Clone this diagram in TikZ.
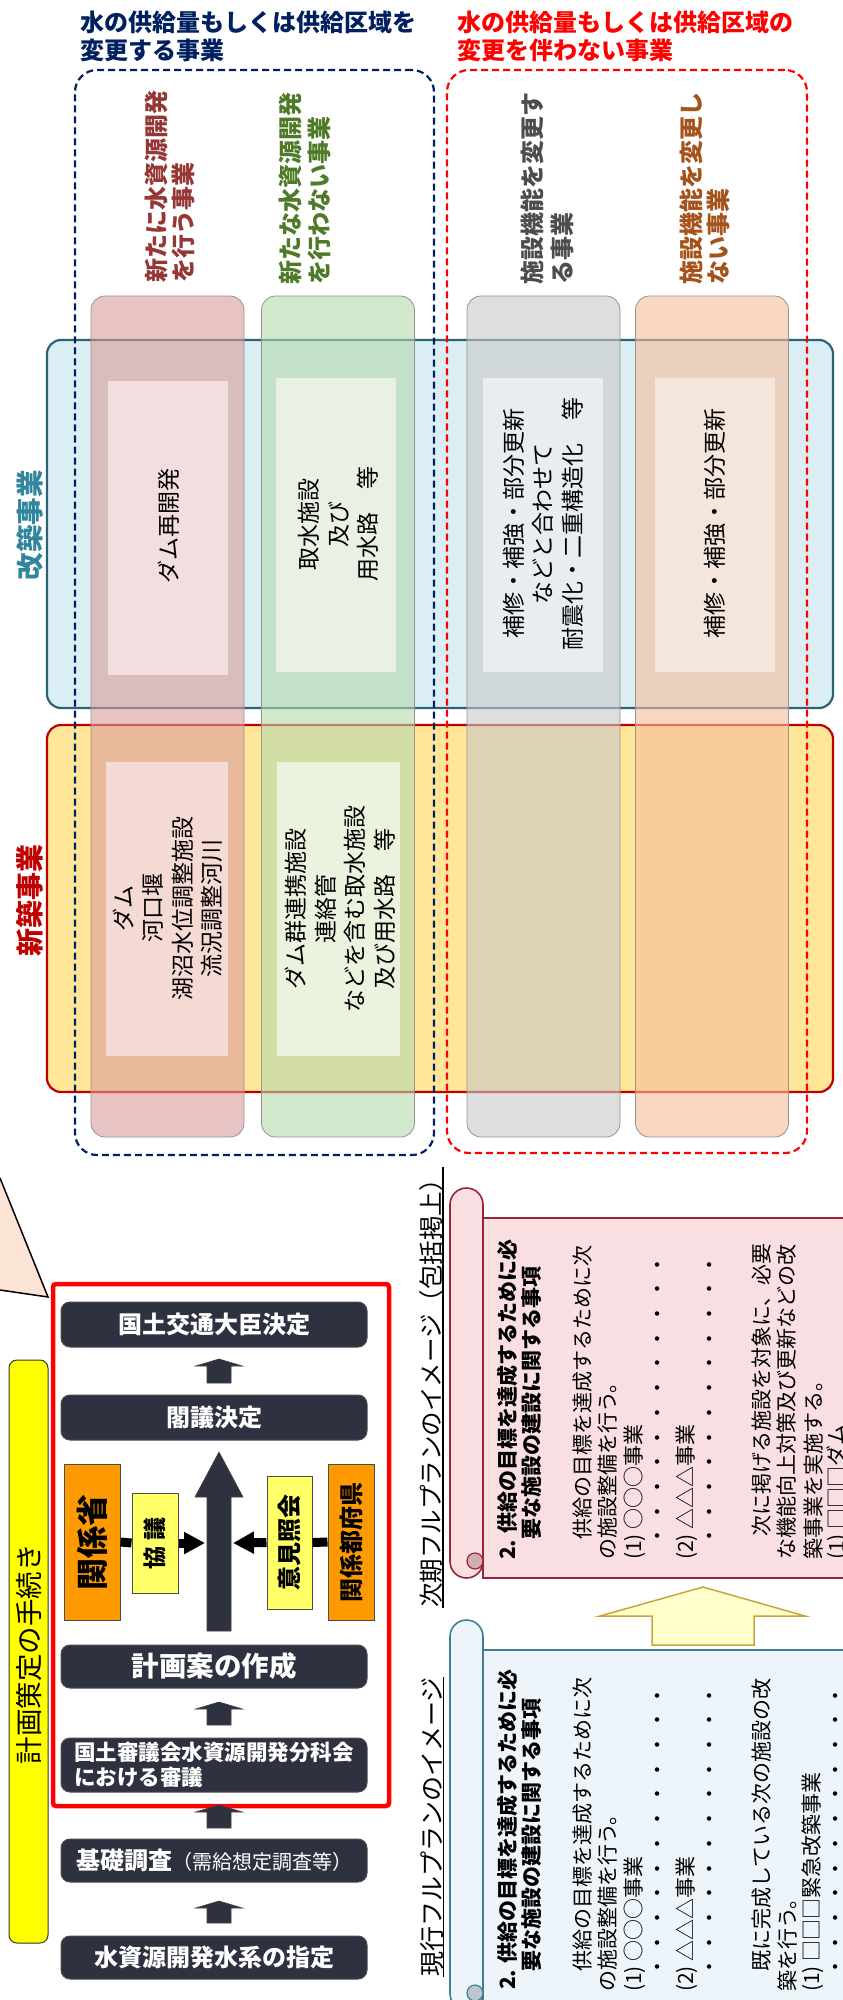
\documentclass[tikz,border=0pt]{standalone}
\usepackage{fontspec}
\usepackage{graphicx}
\setmainfont{Noto Sans CJK JP}
\usetikzlibrary{arrows.meta}
\definecolor{navylbl}{HTML}{002060}
\definecolor{redlbl}{HTML}{FF0000}
\definecolor{kaifill}{HTML}{DAEEF3}
\definecolor{kaidraw}{HTML}{2B6377}
\definecolor{kaitext}{HTML}{31859C}
\definecolor{shinfill}{HTML}{FFE699}
\definecolor{shindraw}{HTML}{C00000}
\definecolor{colR}{HTML}{D99B9B}
\definecolor{colG}{HTML}{B4D9AC}
\definecolor{colY}{HTML}{C8C8C8}
\definecolor{colO}{HTML}{F7BC9B}
\definecolor{inR}{HTML}{F2DEDE}
\definecolor{inG}{HTML}{E8F1E4}
\definecolor{inY}{HTML}{E9EDF1}
\definecolor{inO}{HTML}{F4E6DD}
\definecolor{inRn}{HTML}{F5D9D3}
\definecolor{inGn}{HTML}{EBF2DE}
\definecolor{hdR}{HTML}{953735}
\definecolor{hdG}{HTML}{4F7A28}
\definecolor{hdY}{HTML}{4D4D4D}
\definecolor{hdO}{HTML}{A5521B}
\definecolor{darkbg}{HTML}{2E3240}
\definecolor{orgbox}{HTML}{FF9900}
\definecolor{ylwbox}{HTML}{FFFF66}
\definecolor{ylwlbl}{HTML}{FFFF00}
\definecolor{peach}{HTML}{FBE3D6}
\definecolor{pinkfill}{HTML}{F9DEE2}
\definecolor{pinkdraw}{HTML}{9C2235}
\definecolor{pinkcurl}{HTML}{CFAFB4}
\definecolor{bluefill}{HTML}{EEF5FA}
\definecolor{bluedraw}{HTML}{3F7F95}
\definecolor{bluecurl}{HTML}{BCC6CB}
\definecolor{arrfill}{HTML}{FFFFCC}
\definecolor{arrdraw}{HTML}{C9A43F}
\newcommand\mydotu{・\kern3.7pt}
\newcommand\mydotrow{\mydotu\mydotu\mydotu\mydotu\mydotu\mydotu\mydotu\mydotu\mydotu\mydotu\mydotu・}
\newcommand\blkup[3]{\filldraw[fill=darkbg, draw=gray!50!black, line width=0.6pt] (#1-12,#3) -- (#1-12,#2+7) -- (#1-23.5,#2+7) -- (#1,#2) -- (#1+23.5,#2+7) -- (#1+12,#2+7) -- (#1+12,#3) -- cycle;}
\tikzset{
  fsz/.style={font=\fontsize{#1}{#1}\selectfont},
  fszb/.style={font=\bfseries\fontsize{#1}{#1}\selectfont},
  rt/.style={rotate=90, inner sep=0pt},
  lnw/.style={rotate=90, anchor=west, inner sep=0pt},
  colbox/.style={draw=gray!85, line width=0.8pt, rounded corners=14pt, fill opacity=0.6, minimum width=153pt, minimum height=841pt, inner sep=0pt},
  inbox/.style={inner sep=0pt, minimum width=120pt, minimum height=294pt},
  intext/.style={rotate=90, align=center, inner sep=0pt, font=\fontsize{23}{29.5}\selectfont},
  hd/.style={rotate=90, anchor=west, inner sep=0pt, font=\bfseries\fontsize{24}{24}\selectfont},
  dbox/.style={draw=gray!60!black, line width=1pt, fill=darkbg, rounded corners=9pt, minimum width=306pt, inner sep=0pt, text=white},
  sidebox/.style={draw=black!70, line width=1pt, inner sep=0pt},
  conn/.style={line width=9pt},
  sline/.style={rotate=90, anchor=west, inner sep=0pt, font=\fontsize{21}{21}\selectfont},
  slineb/.style={rotate=90, anchor=west, inner sep=0pt, font=\bfseries\fontsize{21}{21}\selectfont},
}
\begin{document}
\begin{tikzpicture}[x=1pt,y=-1pt]
\useasboundingbox (0,0) rectangle (843,2000);

% ---------- top labels
\node[anchor=west, inner sep=0pt, text=navylbl, fszb=24] (lb1) at (80,22) {水の供給量もしくは供給区域を};
\node[anchor=west, inner sep=0pt, text=navylbl, fszb=24] (lb2) at (80,50) {変更する事業};
\node[anchor=west, inner sep=0pt, text=redlbl, fszb=24] (lr1) at (457,22) {水の供給量もしくは供給区域の};
\node[anchor=west, inner sep=0pt, text=redlbl, fszb=24] (lr2) at (457,50) {変更を伴わない事業};

% ---------- 改築 / 新築 boxes
\node[draw=kaidraw, fill=kaifill, line width=2.2pt, rounded corners=14pt, minimum width=786pt, minimum height=368pt, inner sep=0pt] (kai) at (440,524) {};
\node[draw=shindraw, fill=shinfill, line width=2.2pt, rounded corners=14pt, minimum width=786pt, minimum height=367pt, inner sep=0pt] (shin) at (440,908.5) {};
\node[rt, fszb=27.5, text=kaitext] (kailbl) at (30,525) {改築事業};
\node[rt, fszb=28, text=shindraw] (shinlbl) at (30,900) {新築事業};

% ---------- columns
\node[colbox, fill=colR] (c1) at (167.5,716.5) {};
\node[colbox, fill=colG] (c2) at (338,716.5) {};
\node[colbox, fill=colY] (c3) at (543.5,716.5) {};
\node[colbox, fill=colO] (c4) at (712,716.5) {};

% ---------- inner boxes
\node[inbox, fill=inR] (i1) at (168,527.5) {};
\node[inbox, fill=inG] (i2) at (336,525) {};
\node[inbox, fill=inY] (i3) at (543,525) {};
\node[inbox, fill=inO] (i4) at (715,525) {};
\node[inbox, fill=inRn, minimum width=122pt] (n1) at (167,909) {};
\node[inbox, fill=inGn, minimum width=123pt] (n2) at (338.5,909) {};

\node[intext] (ti1) at (169,526) {ダム再開発};
\node[intext] (ti2) at (338.5,524) {取水施設\\及び\\用水路　等};
\node[intext] (ti3) at (543,523.5) {補修・補強・部分更新\\などと合わせて\\耐震化・二重構造化　等};
\node[intext] (ti4) at (715,523) {補修・補強・部分更新};
\node[intext] (tn1) at (168,908) {ダム\\河口堰\\湖沼水位調整施設\\流況調整河川};
\node[intext] (tn2) at (340,909) {ダム群連携施設\\連絡管\\などを含む取水施設\\及び用水路　等};

% ---------- dashed group boxes
\node[draw=navylbl, dash pattern=on 7pt off 4pt, line width=2.2pt, rounded corners=22pt, minimum width=359pt, minimum height=1085pt, inner sep=0pt] (grpB) at (254.5,612.5) {};
\node[draw=redlbl, dash pattern=on 7pt off 4pt, line width=2.2pt, rounded corners=22pt, minimum width=360pt, minimum height=1083pt, inner sep=0pt] (grpR) at (627,611.5) {};

% ---------- column headers
\node[hd, text=hdR] (h1a) at (156,283) {新たに水資源開発};
\node[hd, text=hdR] (h1b) at (183,283) {を行う事業};
\node[hd, text=hdG] (h2a) at (290,285) {新たな水資源開発};
\node[hd, text=hdG] (h2b) at (319,285) {を行わない事業};
\node[hd, text=hdY] (h3a) at (532,285) {施設機能を変更す};
\node[hd, text=hdY] (h3b) at (562,285) {る事業};
\node[hd, text=hdO] (h4a) at (691,285) {施設機能を変更し};
\node[hd, text=hdO] (h4b) at (718,285) {ない事業};

% ---------- procedure area
\fill[peach] (0,1178) -- (48,1297) -- (0,1290) -- cycle;
\draw[line width=1.5pt] (0,1178) -- (48,1297) -- (0,1290);

\node[draw=black!80, fill=ylwlbl, rounded corners=8pt, line width=1pt, minimum width=39pt, minimum height=583pt, inner sep=0pt] (plbl) at (28.5,1651.5) {};
\node[rt, fsz=27.5] (plbltxt) at (29,1654) {計画策定の手続き};

\node[draw=red, line width=4.5pt, fill=white, rounded corners=3pt, minimum width=336pt, minimum height=522pt, inner sep=0pt] (redbox) at (221,1545) {};

\node[dbox, minimum height=45pt, fszb=24] (p6) at (214,1324.5) {国土交通大臣決定};
\node[dbox, minimum height=45pt, fszb=24] (p5) at (214,1417.5) {閣議決定};
\node[dbox, minimum height=43pt, fszb=27.5] (p4) at (214,1666.5) {計画案の作成};
\node[dbox, minimum height=54pt, align=left, font=\bfseries\fontsize{21.5}{25}\selectfont] (p3) at (214,1765) {国土審議会水資源開発分科会\\における審議};
\node[dbox, minimum height=43pt] (p2) at (214,1860.5) {{\bfseries\fontsize{24}{24}\selectfont 基礎調査}{\fontsize{20}{20}\selectfont （需給想定調査等）}};
\node[dbox, minimum height=43pt, fszb=24] (p1) at (214,1957.5) {水資源開発水系の指定};

\blkup{219}{1359}{1383}
\blkup{219}{1702}{1725}
\blkup{219}{1805}{1828}
\blkup{219}{1901}{1923}

\filldraw[fill=darkbg, draw=gray!50!black, line width=0.6pt] (207,1631) -- (207,1497) -- (195,1497) -- (219,1452) -- (243,1497) -- (231,1497) -- (231,1631) -- cycle;
\coordinate (bigL) at (205,1543);
\coordinate (bigR) at (233,1543);

\node[sidebox, fill=orgbox, minimum width=56pt, minimum height=156pt] (kan) at (92,1542) {\rotatebox{90}{\bfseries\fontsize{32}{32}\selectfont 関係省}};
\node[sidebox, fill=ylwbox, minimum width=46pt, minimum height=100pt] (kyo) at (155,1543) {\rotatebox{90}{\bfseries\fontsize{23}{23}\selectfont 協\hspace{6pt}議}};
\node[sidebox, fill=ylwbox, minimum width=45pt, minimum height=133pt] (iken) at (289.5,1542.5) {\rotatebox{90}{\bfseries\fontsize{24}{24}\selectfont 意見照会}};
\node[sidebox, fill=orgbox, minimum width=46pt, minimum height=156pt] (tdf) at (351,1542) {\rotatebox{90}{\bfseries\fontsize{24}{24}\selectfont 関係都府県}};

\draw[conn] (kan.east) -- (kyo.west);
\draw[conn, -{Triangle[length=21pt,width=21pt]}] (kyo.east) -- (bigL);
\draw[conn] (tdf.west) -- (iken.east);
\draw[conn, -{Triangle[length=21pt,width=21pt]}] (iken.west) -- (bigR);

% ---------- scrolls
\draw[fill=pinkfill, draw=pinkdraw, line width=1.6pt] (483,1218) rectangle (870,1578);
\draw[fill=pinkfill, draw=pinkdraw, line width=1.6pt, rounded corners=16.5pt] (450,1188) rectangle (483,1578);
\filldraw[fill=pinkcurl, draw=pinkdraw, line width=1.2pt] (475,1561) circle[radius=8pt];
\draw[fill=bluefill, draw=bluedraw, line width=1.6pt] (483,1650) rectangle (870,2010);
\draw[fill=bluefill, draw=bluedraw, line width=1.6pt, rounded corners=16.5pt] (450,1620) rectangle (483,2010);
\filldraw[fill=bluecurl, draw=bluedraw, line width=1.2pt] (475,1993) circle[radius=8pt];

\filldraw[fill=arrfill, draw=arrdraw, line width=1.5pt] (652,1645) -- (652,1616) -- (600,1616) -- (703,1587) -- (805,1616) -- (754,1616) -- (754,1645) -- cycle;

\node[lnw, fsz=25] (hgen) at (432,1977) {現行フルプランのイメージ};
\draw[line width=1.3pt] (hgen.south west) -- (hgen.south east);
\node[lnw, fsz=24.5] (hji) at (431,1608) {次期フルプランのイメージ（包括掲上）};
\draw[line width=1.3pt] (hji.south west) -- (hji.south east);

\node[slineb] (pa1) at (507,1560) {2. 供給の目標を達成するために必};
\node[slineb] (pa2) at (532,1540) {要な施設の建設に関する事項};
\node[sline] (pa3) at (583,1540) {供給の目標を達成するために次};
\node[sline] (pa4) at (608,1560) {の施設整備を行う。};
\node[sline] (pa5) at (635,1560) {(1) ○○○事業};
\node[sline] (pa6) at (660,1547) {\mydotrow};
\node[sline] (pa7) at (687,1560) {(2) △△△事業};
\node[sline] (pa8) at (712,1547) {\mydotrow};
\node[sline] (pa9) at (762,1537) {次に掲げる施設を対象に、必要};
\node[sline] (pa10) at (787,1560) {な機能向上対策及び更新などの改};
\node[sline] (pa11) at (813,1560) {築事業を実施する。};
\node[sline] (pa12) at (838,1560) {(1) □□□ダム};

\node[slineb] (pb1) at (507,1990) {2. 供給の目標を達成するために必};
\node[slineb] (pb2) at (532,1972) {要な施設の建設に関する事項};
\node[sline] (pb3) at (583,1972) {供給の目標を達成するために次};
\node[sline] (pb4) at (608,1992) {の施設整備を行う。};
\node[sline] (pb5) at (635,1992) {(1) ○○○事業};
\node[sline] (pb6) at (660,1978) {\mydotrow};
\node[sline] (pb7) at (687,1992) {(2) △△△事業};
\node[sline] (pb8) at (712,1978) {\mydotrow};
\node[sline] (pb9) at (762,1972) {既に完成している次の施設の改};
\node[sline] (pb10) at (787,1992) {築を行う。};
\node[sline] (pb11) at (813,1992) {(1) □□□緊急改築事業};
\node[sline] (pb12) at (838,1978) {\mydotrow};
\end{tikzpicture}
\end{document}
